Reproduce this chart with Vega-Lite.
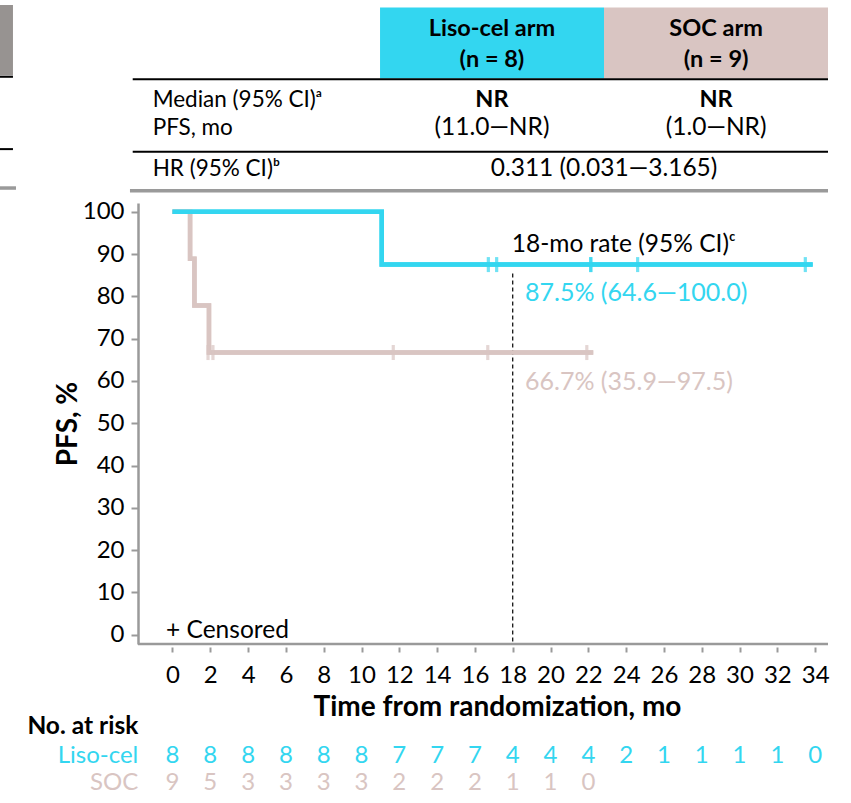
{
  "$schema": "https://vega.github.io/schema/vega-lite/v6.json",
  "width": 690,
  "height": 441,
  "autosize": {"type": "none"},
  "padding": {"left": 138, "top": 203, "right": 23, "bottom": 159},
  "background": "white",
  "config": {"font": "Lato", "view": {"stroke": null}, "text": {"fontSize": 22, "color": "#000000"}},
  "datasets": {
    "curves": [
      {"arm": "SOC", "t": 0, "s": 100},
      {"arm": "SOC", "t": 0.93, "s": 88.9},
      {"arm": "SOC", "t": 1.16, "s": 77.8},
      {"arm": "SOC", "t": 1.93, "s": 66.7},
      {"arm": "SOC", "t": 22.26, "s": 66.7},
      {"arm": "Liso-cel", "t": 0, "s": 100},
      {"arm": "Liso-cel", "t": 11.07, "s": 87.5},
      {"arm": "Liso-cel", "t": 33.87, "s": 87.5}
    ],
    "censors": [
      {"arm": "SOC", "t": 1.88, "s": 66.7},
      {"arm": "SOC", "t": 2.14, "s": 66.7},
      {"arm": "SOC", "t": 11.68, "s": 66.7},
      {"arm": "SOC", "t": 16.68, "s": 66.7},
      {"arm": "SOC", "t": 21.92, "s": 66.7},
      {"arm": "Liso-cel", "t": 16.71, "s": 87.5},
      {"arm": "Liso-cel", "t": 17.15, "s": 87.5},
      {"arm": "Liso-cel", "t": 22.13, "s": 87.5},
      {"arm": "Liso-cel", "t": 22.13, "s": 87.5},
      {"arm": "Liso-cel", "t": 24.61, "s": 87.5},
      {"arm": "Liso-cel", "t": 33.48, "s": 87.5}
    ],
    "risk": [
      {"arm": "Liso-cel", "t": 0, "n": 8}, {"arm": "Liso-cel", "t": 2, "n": 8}, {"arm": "Liso-cel", "t": 4, "n": 8},
      {"arm": "Liso-cel", "t": 6, "n": 8}, {"arm": "Liso-cel", "t": 8, "n": 8}, {"arm": "Liso-cel", "t": 10, "n": 8},
      {"arm": "Liso-cel", "t": 12, "n": 7}, {"arm": "Liso-cel", "t": 14, "n": 7}, {"arm": "Liso-cel", "t": 16, "n": 7},
      {"arm": "Liso-cel", "t": 18, "n": 4}, {"arm": "Liso-cel", "t": 20, "n": 4}, {"arm": "Liso-cel", "t": 22, "n": 4},
      {"arm": "Liso-cel", "t": 24, "n": 2}, {"arm": "Liso-cel", "t": 26, "n": 1}, {"arm": "Liso-cel", "t": 28, "n": 1},
      {"arm": "Liso-cel", "t": 30, "n": 1}, {"arm": "Liso-cel", "t": 32, "n": 1}, {"arm": "Liso-cel", "t": 34, "n": 0},
      {"arm": "SOC", "t": 0, "n": 9}, {"arm": "SOC", "t": 2, "n": 5}, {"arm": "SOC", "t": 4, "n": 3},
      {"arm": "SOC", "t": 6, "n": 3}, {"arm": "SOC", "t": 8, "n": 3}, {"arm": "SOC", "t": 10, "n": 3},
      {"arm": "SOC", "t": 12, "n": 2}, {"arm": "SOC", "t": 14, "n": 2}, {"arm": "SOC", "t": 16, "n": 2},
      {"arm": "SOC", "t": 18, "n": 1}, {"arm": "SOC", "t": 20, "n": 1}, {"arm": "SOC", "t": 22, "n": 0}
    ],
    "riskRows": [
      {"arm": "Liso-cel", "x": -1.81, "y": -28.6, "text": "Liso-cel"},
      {"arm": "SOC", "x": -1.81, "y": -35.0, "text": "SOC"}
    ],
    "headerBoxes": [
      {"arm": "Liso-cel", "x1": 10.98, "x2": 22.83, "y1": 131.5, "y2": 148.3},
      {"arm": "SOC", "x1": 22.83, "x2": 34.68, "y1": 131.5, "y2": 148.3}
    ],
    "blackLines": [
      {"x1": -2.105, "x2": 34.68, "y": 131.3},
      {"x1": -2.105, "x2": 34.68, "y": 114.2},
      {"x1": -9.2, "x2": -8.44, "y": 131.9},
      {"x1": -9.2, "x2": -8.44, "y": 114.8}
    ],
    "grayLines": [
      {"x1": -2.25, "x2": 34.68, "y": 104.96},
      {"x1": -9.2, "x2": -8.28, "y": 105.6}
    ],
    "sideBox": [
      {"x1": -9.2, "x2": -8.44, "y1": 132.2, "y2": 148.9}
    ],
    "boldCenter": [
      {"x": 16.9, "y": 143.1, "text": "Liso-cel arm"},
      {"x": 16.9, "y": 135.8, "text": "(n = 8)"},
      {"x": 28.76, "y": 143.1, "text": "SOC arm"},
      {"x": 28.76, "y": 135.8, "text": "(n = 9)"},
      {"x": 16.9, "y": 126.3, "text": "NR"},
      {"x": 28.76, "y": 126.3, "text": "NR"}
    ],
    "tableLeft": [
      {"x": -1.05, "y": 126.3, "text": "Median (95% CI)ᵃ"},
      {"x": -1.05, "y": 119.9, "text": "PFS, mo"},
      {"x": -1.05, "y": 110.0, "text": "HR (95% CI)ᵇ"}
    ],
    "plotLeft": [
      {"x": -0.34, "y": 0.94, "text": "+ Censored"},
      {"x": 17.95, "y": 92.1, "text": "18-mo rate (95% CI)ᶜ"}
    ],
    "centerText": [
      {"x": 16.9, "y": 119.9, "text": "(11.0—NR)"},
      {"x": 28.76, "y": 119.9, "text": "(1.0—NR)"},
      {"x": 22.83, "y": 110.0, "text": "0.311 (0.031—3.165)"}
    ],
    "rates": [
      {"arm": "Liso-cel", "x": 18.65, "y": 80.7, "text": "87.5% (64.6—100.0)"},
      {"arm": "SOC", "x": 18.65, "y": 59.8, "text": "66.7% (35.9—97.5)"}
    ],
    "riskHead": [
      {"x": -1.81, "y": -21.75, "text": "No. at risk"}
    ]
  },
  "layer": [
    {
      "data": {"name": "curves"},
      "mark": {"type": "line", "interpolate": "step-after", "strokeWidth": 4.5},
      "encoding": {
        "x": {
          "field": "t", "type": "quantitative",
          "scale": {"domain": [-1.825, 34.68], "nice": false, "zero": false},
          "axis": {
            "values": [0, 2, 4, 6, 8, 10, 12, 14, 16, 18, 20, 22, 24, 26, 28, 30, 32, 34],
            "domain": false, "offset": 3, "tickSize": 5, "tickColor": "#9A9A9A", "tickWidth": 2,
            "grid": false, "labelFontSize": 24, "labelColor": "#000000", "labelPadding": 11, "labelFlush": false,
            "title": "Time from randomization, mo", "titleFontSize": 28, "titleFontWeight": "bold",
            "titleColor": "#000000", "titlePadding": 6, "titleX": 359
          }
        },
        "y": {
          "field": "s", "type": "quantitative",
          "scale": {"domain": [-2.2, 102.06], "nice": false, "zero": false},
          "axis": {
            "values": [0, 10, 20, 30, 40, 50, 60, 70, 80, 90, 100],
            "domainColor": "#9A9A9A", "domainWidth": 2.5, "tickSize": 7, "tickColor": "#9A9A9A", "tickWidth": 2,
            "grid": false, "labelFontSize": 24, "labelColor": "#000000", "labelPadding": 7, "labelFlush": false,
            "title": "PFS, %", "titleFontSize": 28, "titleFontWeight": "bold", "titleColor": "#000000", "titlePadding": 0
          }
        },
        "color": {"field": "arm", "type": "nominal", "scale": {"domain": ["Liso-cel", "SOC"], "range": ["#33D6F0", "#D9C5C2"]}, "legend": null},
        "order": {"field": "t", "type": "quantitative"}
      }
    },
    {
      "data": {"name": "sideBox"},
      "mark": {"type": "rect", "color": "#979391"},
      "encoding": {
        "x": {"field": "x1", "type": "quantitative"},
        "x2": {"field": "x2"},
        "y": {"field": "y1", "type": "quantitative"},
        "y2": {"field": "y2"}
      }
    },
    {
      "data": {"name": "headerBoxes"},
      "mark": {"type": "rect"},
      "encoding": {
        "x": {"field": "x1", "type": "quantitative"},
        "x2": {"field": "x2"},
        "y": {"field": "y1", "type": "quantitative"},
        "y2": {"field": "y2"},
        "color": {"field": "arm", "type": "nominal", "legend": null}
      }
    },
    {
      "data": {"name": "blackLines"},
      "mark": {"type": "rule", "color": "#000000", "strokeWidth": 2},
      "encoding": {
        "x": {"field": "x1", "type": "quantitative"},
        "x2": {"field": "x2"},
        "y": {"field": "y", "type": "quantitative"}
      }
    },
    {
      "data": {"name": "grayLines"},
      "mark": {"type": "rule", "color": "#9A9A9A", "strokeWidth": 3.5},
      "encoding": {
        "x": {"field": "x1", "type": "quantitative"},
        "x2": {"field": "x2"},
        "y": {"field": "y", "type": "quantitative"}
      }
    },
    {
      "data": {"values": [{}]},
      "mark": {"type": "rule", "color": "#9A9A9A", "strokeWidth": 2.5},
      "encoding": {
        "x": {"datum": -1.825, "type": "quantitative"},
        "x2": {"datum": 34.68},
        "y": {"datum": -2.2, "type": "quantitative"}
      }
    },
    {
      "data": {"values": [{}]},
      "mark": {"type": "rule", "color": "#000000", "strokeWidth": 1.2, "strokeDash": [4, 3]},
      "encoding": {
        "x": {"datum": 18, "type": "quantitative"},
        "y": {"datum": 85.4, "type": "quantitative"},
        "y2": {"datum": -2.2}
      }
    },
    {
      "data": {"name": "curves"},
      "mark": {"type": "line", "interpolate": "step-after", "strokeWidth": 4.5},
      "encoding": {
        "x": {"field": "t", "type": "quantitative"},
        "y": {"field": "s", "type": "quantitative"},
        "color": {"field": "arm", "type": "nominal", "legend": null},
        "order": {"field": "t", "type": "quantitative"}
      }
    },
    {
      "data": {"name": "censors"},
      "mark": {"type": "tick", "orient": "vertical", "size": 15, "thickness": 3.2},
      "encoding": {
        "x": {"field": "t", "type": "quantitative"},
        "y": {"field": "s", "type": "quantitative"},
        "color": {"field": "arm", "type": "nominal", "legend": null}
      }
    },
    {
      "data": {"name": "boldCenter"},
      "mark": {"type": "text", "fontWeight": "bold", "align": "center", "baseline": "middle", "fontSize": 23.5},
      "encoding": {
        "x": {"field": "x", "type": "quantitative"},
        "y": {"field": "y", "type": "quantitative"},
        "text": {"field": "text"}
      }
    },
    {
      "data": {"name": "tableLeft"},
      "mark": {"type": "text", "align": "left", "baseline": "middle", "fontSize": 22.5},
      "encoding": {
        "x": {"field": "x", "type": "quantitative"},
        "y": {"field": "y", "type": "quantitative"},
        "text": {"field": "text"}
      }
    },
    {
      "data": {"name": "plotLeft"},
      "mark": {"type": "text", "align": "left", "baseline": "middle", "fontSize": 24.5},
      "encoding": {
        "x": {"field": "x", "type": "quantitative"},
        "y": {"field": "y", "type": "quantitative"},
        "text": {"field": "text"}
      }
    },
    {
      "data": {"name": "centerText"},
      "mark": {"type": "text", "align": "center", "baseline": "middle", "fontSize": 24.5},
      "encoding": {
        "x": {"field": "x", "type": "quantitative"},
        "y": {"field": "y", "type": "quantitative"},
        "text": {"field": "text"}
      }
    },
    {
      "data": {"name": "rates"},
      "mark": {"type": "text", "align": "left", "baseline": "middle", "fontSize": 25},
      "encoding": {
        "x": {"field": "x", "type": "quantitative"},
        "y": {"field": "y", "type": "quantitative"},
        "text": {"field": "text"},
        "color": {"field": "arm", "type": "nominal", "legend": null}
      }
    },
    {
      "data": {"name": "riskHead"},
      "mark": {"type": "text", "fontWeight": "bold", "align": "right", "baseline": "middle", "fontSize": 24.5},
      "encoding": {
        "x": {"field": "x", "type": "quantitative"},
        "y": {"field": "y", "type": "quantitative"},
        "text": {"field": "text"}
      }
    },
    {
      "data": {"name": "riskRows"},
      "mark": {"type": "text", "align": "right", "baseline": "middle", "fontSize": 24},
      "encoding": {
        "x": {"field": "x", "type": "quantitative"},
        "y": {"field": "y", "type": "quantitative"},
        "text": {"field": "text"},
        "color": {"field": "arm", "type": "nominal", "legend": null}
      }
    },
    {
      "data": {"name": "risk"},
      "transform": [{"calculate": "datum.arm === 'Liso-cel' ? -28.6 : -35.0", "as": "row"}],
      "mark": {"type": "text", "align": "center", "baseline": "middle", "fontSize": 24},
      "encoding": {
        "x": {"field": "t", "type": "quantitative"},
        "y": {"field": "row", "type": "quantitative"},
        "text": {"field": "n"},
        "color": {"field": "arm", "type": "nominal", "legend": null}
      }
    }
  ]
}
